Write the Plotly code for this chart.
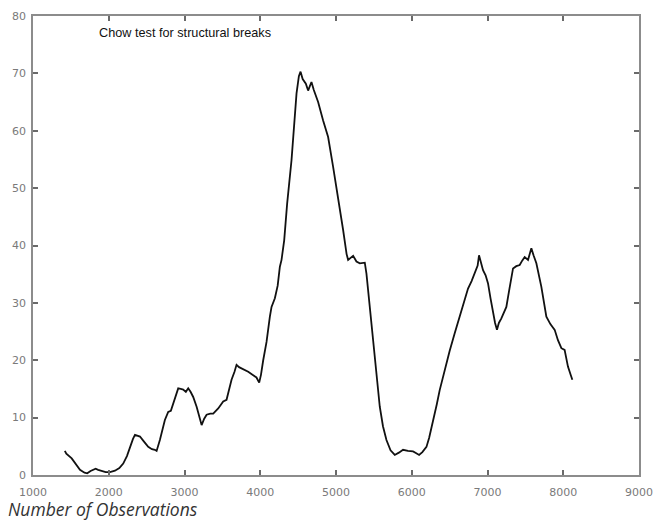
import plotly.graph_objects as go

obs = [1420, 1440, 1511, 1560, 1620, 1680, 1716, 1760, 1827, 1860, 1906, 1960, 2016, 2082, 2140,
       2191, 2240, 2280, 2320, 2346, 2380, 2412, 2460, 2521, 2570, 2609, 2632, 2675, 2741, 2785,
       2820, 2851, 2890, 2917, 2950, 2983, 3018, 3049, 3080, 3115, 3160, 3200, 3226, 3260, 3292,
       3340, 3379, 3445, 3511, 3555, 3590, 3621, 3660, 3687, 3720, 3753, 3800, 3841, 3907, 3950,
       3986, 4010, 4039, 4083, 4127, 4149, 4193, 4230, 4259, 4281, 4316, 4355, 4413, 4450, 4479,
       4510, 4532, 4560, 4602, 4632, 4676, 4707, 4764, 4830, 4896, 4962, 5028, 5094, 5140, 5160,
       5226, 5270, 5314, 5380, 5402, 5446, 5512, 5578, 5620, 5666, 5720, 5753, 5776, 5830, 5885,
       5950, 6017, 6060, 6097, 6140, 6194, 6230, 6281, 6330, 6369, 6457, 6500, 6567, 6655, 6700,
       6743, 6790, 6831, 6870, 6888, 6915, 6941, 6975, 7007, 7040, 7073, 7100, 7125, 7150, 7183,
       7249, 7290, 7337, 7380, 7425, 7460, 7491, 7535, 7560, 7579, 7610, 7645, 7711, 7777, 7830,
       7887, 7930, 7975, 8018, 8062, 8100, 8120]
chow = [4.2, 3.7, 2.9, 2.0, 0.9, 0.4, 0.3, 0.7, 1.1, 0.9, 0.75, 0.5, 0.5, 0.75, 1.2,
        2.0, 3.3, 4.9, 6.3, 7.0, 6.8, 6.7, 5.9, 4.9, 4.5, 4.4, 4.2, 6.1, 9.6, 11.0,
        11.2, 12.5, 13.8, 15.1, 15.0, 14.9, 14.5, 15.1, 14.5, 13.6, 11.9, 9.8, 8.7, 9.8, 10.5,
        10.7, 10.7, 11.6, 12.8, 13.1, 14.8, 16.6, 18.0, 19.2, 18.8, 18.6, 18.2, 18.0, 17.4, 17.0,
        16.1, 17.5, 20.0, 23.2, 27.6, 29.3, 30.8, 33.0, 36.3, 37.5, 40.9, 47.3, 54.9, 61.0, 66.5,
        69.5, 70.3, 69.0, 68.2, 67.0, 68.5, 67.1, 65.0, 61.8, 58.9, 53.7, 48.5, 42.7, 38.5, 37.5,
        38.2, 37.2, 36.9, 37.0, 35.1, 29.3, 20.6, 11.9, 8.5, 6.1, 4.3, 3.8, 3.5, 3.9, 4.4,
        4.2, 4.1, 3.8, 3.5, 4.0, 4.9, 6.5, 9.3, 12.3, 14.8, 19.5, 21.6, 24.7, 28.7, 30.5,
        32.5, 33.8, 35.1, 36.5, 38.3, 37.0, 35.7, 34.8, 33.4, 30.8, 28.2, 26.5, 25.3, 26.5, 27.3,
        29.3, 32.5, 36.0, 36.4, 36.6, 37.4, 38.0, 37.5, 38.8, 39.5, 38.2, 36.9, 32.8, 27.6, 26.3,
        25.3, 23.5, 22.1, 21.8, 18.9, 17.4, 16.6]

x_ticks = [1000, 2000, 3000, 4000, 5000, 6000, 7000, 8000, 9000]
y_ticks = [0, 10, 20, 30, 40, 50, 60, 70, 80]
title_text = "Chow test for structural breaks"
x_title = "Number of Observations"

fig = go.Figure()
fig.add_trace(go.Scatter(x=obs, y=chow, mode="lines",
                         line=dict(color="#111111", width=1.8), showlegend=False))

axis_common = dict(showline=True, linecolor="#8c8c8c", linewidth=1.5, mirror="ticks",
                   ticks="inside", ticklen=5, tickwidth=1.5, tickcolor="#6a6a6a",
                   showgrid=False, zeroline=False, automargin=False,
                   tickfont=dict(family="DejaVu Sans", size=11, color="#7a7a7a"))

fig.update_xaxes(range=[1000, 9000], tickvals=x_ticks, ticktext=[str(v) for v in x_ticks],
                 ticklabelstandoff=6, **axis_common)
fig.update_yaxes(range=[0, 80], tickvals=y_ticks, ticktext=[str(v) for v in y_ticks],
                 ticklabelstandoff=3, **axis_common)

L, R, T, B = 33, 18, 16, 45
W, H = 657, 520
pw, ph = W - L - R, H - T - B

fig.add_annotation(text=title_text, xref="paper", yref="paper",
                   x=(97 - L) / pw, y=(H - B - 33) / ph, xanchor="left", yanchor="middle",
                   showarrow=False, font=dict(family="Liberation Sans", size=12.7, color="#111111"))
fig.add_annotation(text="<i>" + x_title + "</i>", xref="paper", yref="paper",
                   x=(7 - L) / pw, y=(H - B - 508.7) / ph, xanchor="left", yanchor="middle",
                   borderpad=0, showarrow=False,
                   font=dict(family="Open Sans", size=17.5, color="#333333"))

fig.update_layout(width=W, height=H, margin=dict(l=L, r=R, t=T, b=B, autoexpand=False),
                  plot_bgcolor="white", paper_bgcolor="white")

fig.write_html("out.html", config={"displayModeBar": False},
               post_script="document.body.style.margin='0';")
